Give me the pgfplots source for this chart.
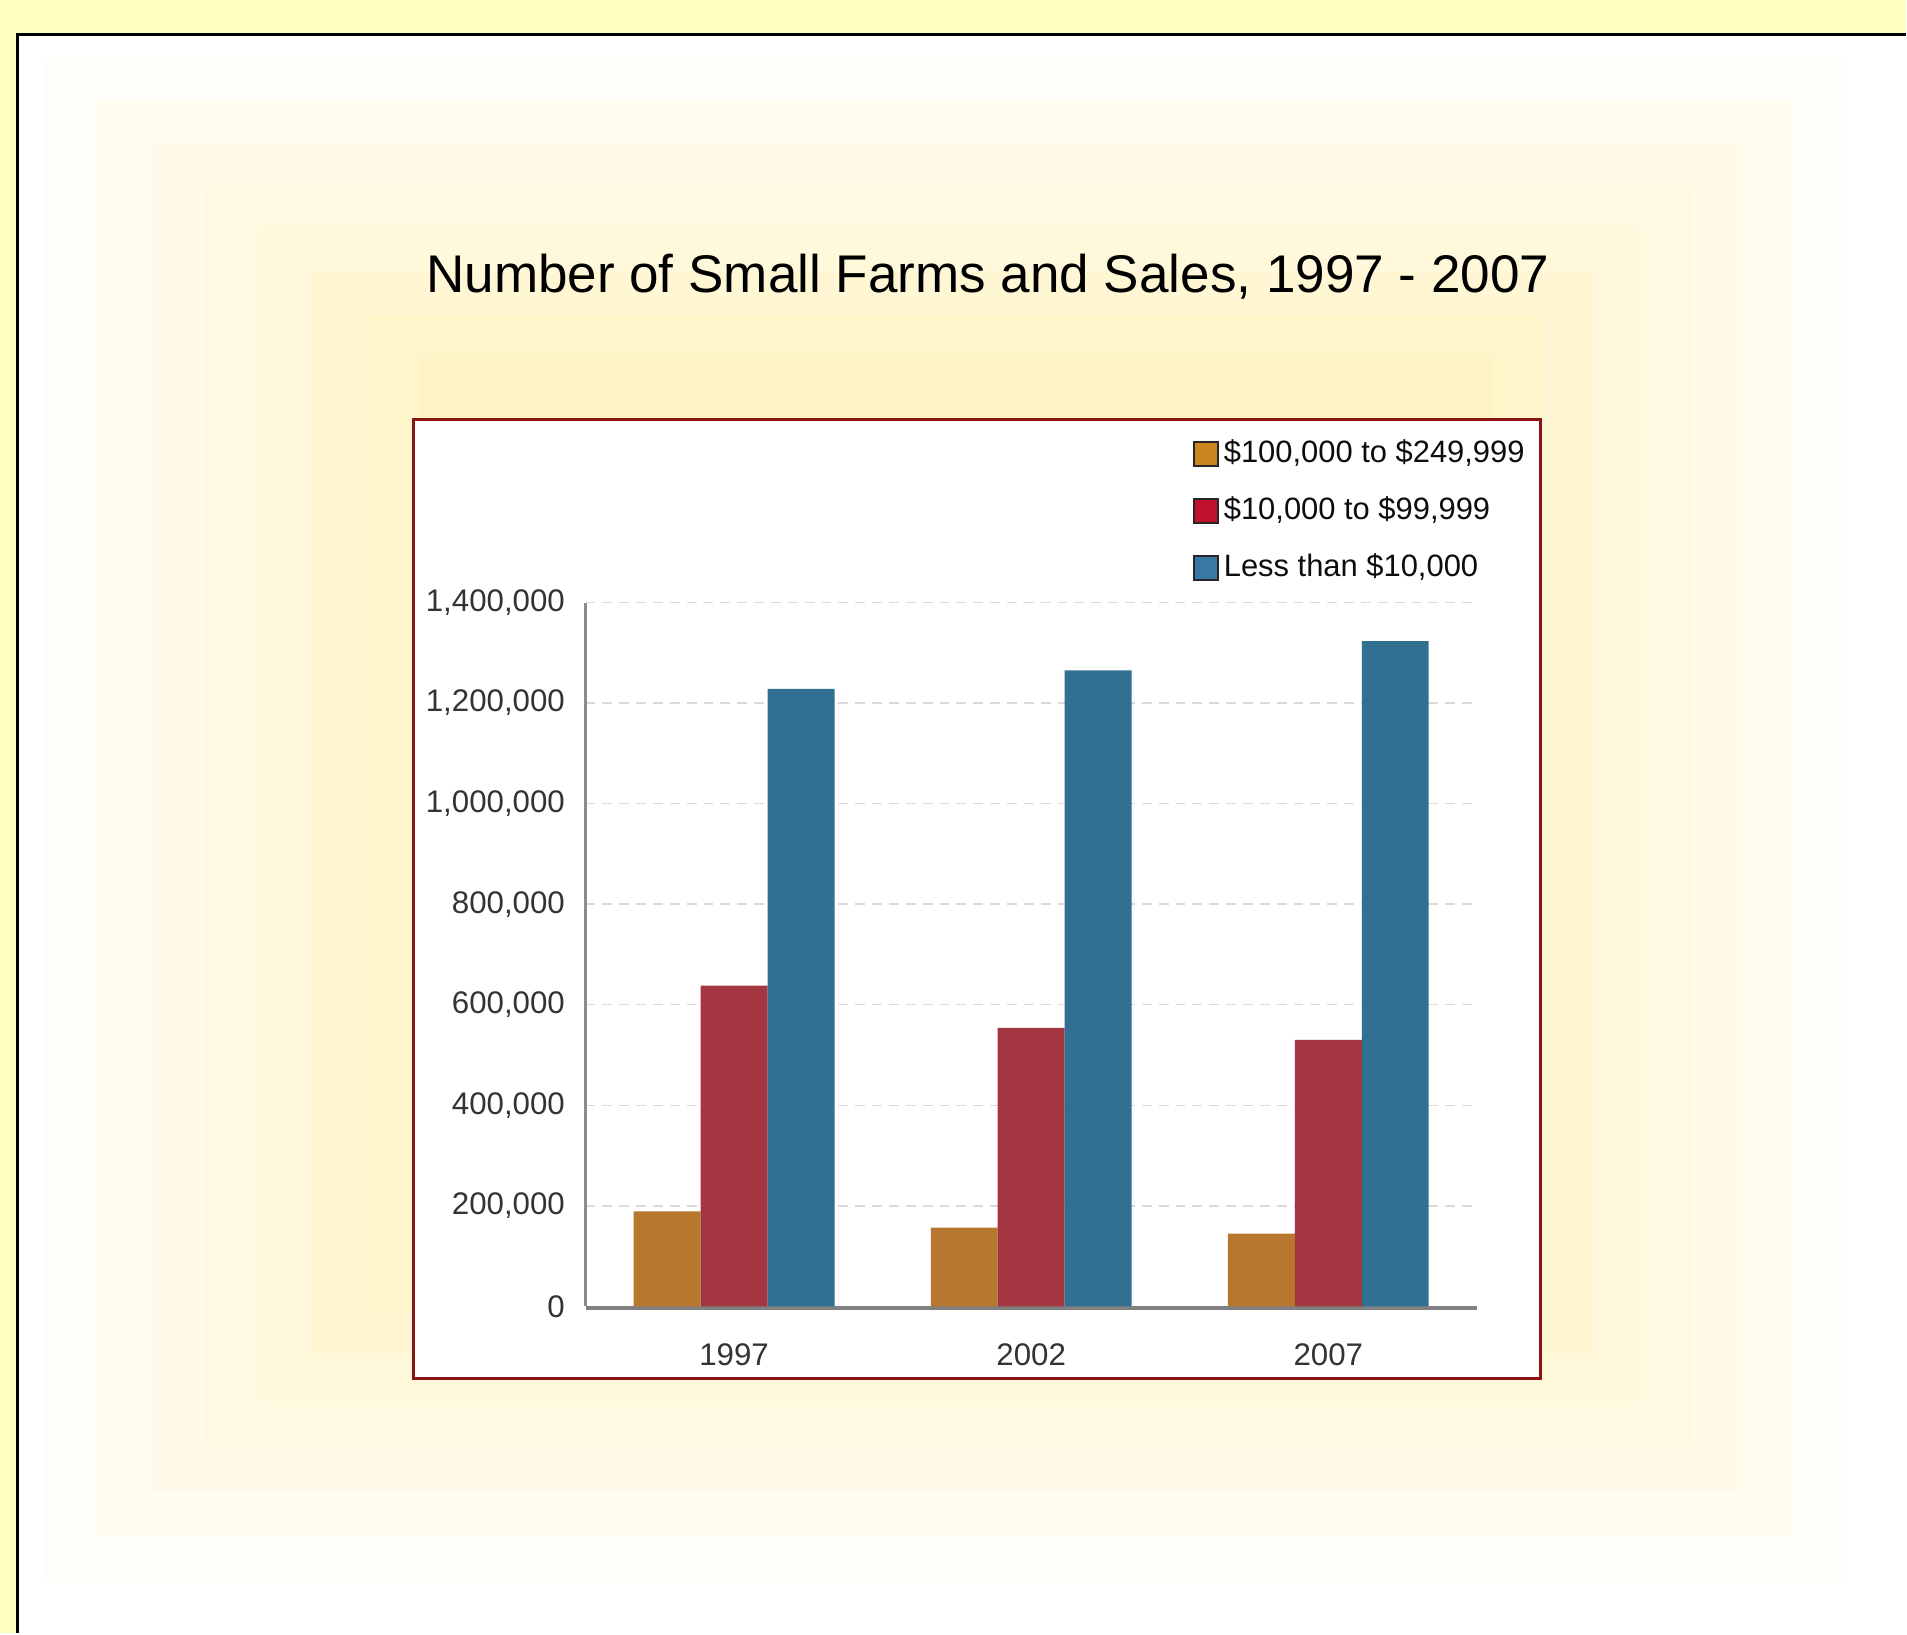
\documentclass[border=0pt]{standalone}
\usepackage{pgfplots}
\pgfplotsset{compat=1.18}
\usepackage{fontspec}
\setmainfont{Liberation Sans}

\definecolor{pageyellow}{RGB}{255,255,192}
\definecolor{glow}{RGB}{255,243,196}
\definecolor{panelred}{RGB}{139,20,20}
\definecolor{barorange}{RGB}{184,119,46}
\definecolor{barred}{RGB}{163,54,64}
\definecolor{barblue}{RGB}{50,112,146}
\definecolor{keyorange}{RGB}{203,134,32}
\definecolor{keyred}{RGB}{192,18,46}
\definecolor{keyblue}{RGB}{56,120,162}

\pgfplotsset{
  keybox/.style={legend image code/.code={\draw[fill=#1,draw=black!85,line width=0.6pt] (0cm,-0.12cm) rectangle (0.24cm,0.12cm);}},
}

\begin{document}
\begin{tikzpicture}
% page and frame
\fill[pageyellow] (0,0) rectangle (19.07,16.34);
\fill[white] (0.175,0) rectangle (19.07,15.995);
\foreach \k in {1,...,8}{
  \pgfmathsetmacro\p{\k*12.5}
  \fill[glow!\p!white] (0.43+\k*0.54-0.54, 0.51+\k*0.45-0.45) rectangle (18.93-\k*0.5, 16.2-\k*0.43);
}
\draw[black, line width=0.85pt] (0.175,0) -- (0.175,15.995) -- (19.07,15.995);
% chart panel
\draw[panelred, line width=0.8pt, fill=white] (4.14,2.54) rectangle (15.42,12.14);
\node[anchor=base, font=\fontsize{15.1}{18}\selectfont] at (9.885,13.41) {Number of Small Farms and Sales, 1997 - 2007};

\begin{axis}[
  at={(5.86cm,3.265cm)}, anchor=south west,
  scale only axis, width=8.92cm, height=7.045cm,
  ybar=0pt, bar width=0.67cm,
  xmin=-0.5, xmax=2.5, ymin=0, ymax=1400000,
  xtick=data, xticklabels={1997,2002,2007},
  ytick={0,200000,400000,600000,800000,1000000,1200000,1400000},
  scaled y ticks=false,
  /pgf/number format/fixed,
  /pgf/number format/1000 sep={,},
  /pgf/number format/assume math mode=true,
  axis x line=bottom, axis y line=left,
  x axis line style={-, draw=black!50, line width=1.1pt, yshift=-0.55pt},
  y axis line style={-, draw=black!45, line width=0.6pt},
  major tick length=0pt,
  ymajorgrids,
  grid style={draw=black!15, line width=0.4pt, dash pattern=on 2.8pt off 2pt},
  tick label style={font=\fontsize{8.9}{10}\selectfont, text=black!80},
  yticklabel style={anchor=east, inner sep=0pt, xshift=-0.2cm},
  xticklabel style={anchor=north, inner sep=0pt, yshift=-0.37cm},
  legend style={at={(0.6805,1.2335)}, anchor=north west, draw=none, fill=none,
    font=\fontsize{8.8}{10}\selectfont, text=black!95, row sep=0.26cm, column sep=0.05cm,
    inner sep=0pt, nodes={inner sep=0pt, text height=0.24cm, text depth=0.07cm}},
  legend cell align=left,
]
\addplot[fill=barorange, draw=none, keybox=keyorange] coordinates {(0,189000) (1,157000) (2,145000)};
\addlegendentry{\$100,000 to \$249,999}
\addplot[fill=barred, draw=none, keybox=keyred] coordinates {(0,638000) (1,554000) (2,530000)};
\addlegendentry{\$10,000 to \$99,999}
\addplot[fill=barblue, draw=none, keybox=keyblue] coordinates {(0,1228000) (1,1265000) (2,1323000)};
\addlegendentry{Less than \$10,000}
\end{axis}
\end{tikzpicture}
\end{document}
